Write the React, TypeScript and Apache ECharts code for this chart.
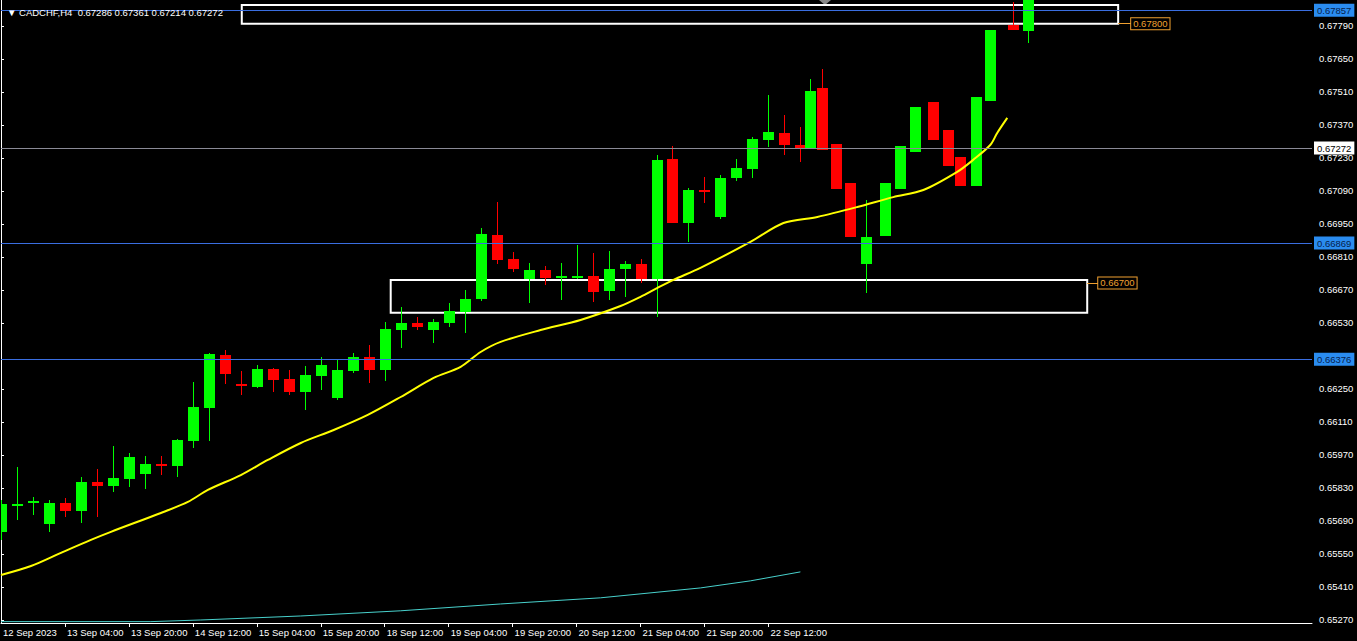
import React, { useEffect, useRef } from "react";
import * as echarts from "echarts";

const FONT = "'Liberation Sans', Arial, sans-serif";
const headerText = "CADCHF,H4  0.67286 0.67361 0.67214 0.67272";

// candle positions in H4-bar units (0 = first visible bar)
const candleX = [
  0, 1, 2, 3, 4, 5, 6, 7, 8, 9, 10, 11, 12, 13, 14, 15, 16, 17, 18, 19, 20,
  21, 22, 23, 24, 25, 26, 27, 28, 29, 30, 31, 32, 33, 34, 35, 36, 37, 38, 39,
  40, 41, 42, 43, 44, 45, 46, 47, 48, 49, 50,
  50.63, 51.38, 52.25, 53.13, 54.13, 55.31, 56.25, 57.19, 58.31, 59.25, 60.0,
  61.0, 61.88, 63.31, 64.25,
];
const opens = [
  0.65644, 0.6576, 0.65767, 0.65678, 0.65767, 0.65733, 0.65856, 0.65839, 0.65868, 0.65889,
  0.65932, 0.65923, 0.6603, 0.6617, 0.66394, 0.66271, 0.66259, 0.66335, 0.66293, 0.66238,
  0.66305, 0.66212, 0.66327, 0.66386, 0.66331, 0.665, 0.6653, 0.665, 0.6653, 0.66577,
  0.66632, 0.66903, 0.66802, 0.66717, 0.66755, 0.66721, 0.66721, 0.6673, 0.66664, 0.66759,
  0.66781, 0.66717, 0.67226, 0.66954, 0.67094, 0.6698, 0.67145, 0.67183, 0.67306, 0.67336,
  0.67286,
  0.67268, 0.67527, 0.67289, 0.67124, 0.66781, 0.66899, 0.67099, 0.67256, 0.67468, 0.67349,
  0.67234, 0.67111, 0.67472, 0.67794, 0.67769,
];
const closes = [
  0.65762, 0.65764, 0.65775, 0.65767, 0.65733, 0.65856, 0.65839, 0.65873, 0.65962, 0.65932,
  0.65923, 0.66034, 0.66174, 0.66399, 0.66314, 0.66263, 0.66335, 0.66288, 0.66238, 0.6631,
  0.66352, 0.66331, 0.66386, 0.66331, 0.66504, 0.6653, 0.66513, 0.66535, 0.66581, 0.66632,
  0.66908, 0.66797, 0.66759, 0.66755, 0.66721, 0.6673, 0.6673, 0.66664, 0.66759, 0.66781,
  0.66717, 0.67222, 0.66954, 0.67094, 0.67086, 0.67145, 0.67188, 0.67311, 0.6734, 0.67285,
  0.67272,
  0.67514, 0.67264, 0.67099, 0.66895, 0.66895, 0.67124, 0.67281, 0.67446, 0.67306, 0.67196,
  0.67111, 0.67489, 0.67773, 0.67773, 0.6791,
];
const lows = [
  0.6561, 0.65694, 0.65716, 0.65644, 0.65707, 0.65682, 0.65707, 0.65813, 0.65835, 0.65826,
  0.65885, 0.65877, 0.66, 0.6603, 0.66271, 0.66225, 0.66254, 0.66238, 0.66225, 0.66161,
  0.66246, 0.66205, 0.66318, 0.66276, 0.66284, 0.66424, 0.665, 0.66445, 0.66513, 0.66488,
  0.66624, 0.66781, 0.66747, 0.66615, 0.66691, 0.66628, 0.66717, 0.66619, 0.66628, 0.66641,
  0.667, 0.66556, 0.66954, 0.66874, 0.67039, 0.66971, 0.67132, 0.67145, 0.67277, 0.67243,
  0.67214,
  0.67268, 0.67264, 0.67099, 0.66895, 0.66659, 0.66899, 0.67099, 0.67256, 0.67306, 0.67196,
  0.67111, 0.67111, 0.67472, 0.67773, 0.67718,
];
const highs = [
  0.65779, 0.65919, 0.65792, 0.65779, 0.65788, 0.65877, 0.65911, 0.66008, 0.65979, 0.65966,
  0.65966, 0.66038, 0.6628, 0.66403, 0.66416, 0.66327, 0.66352, 0.66339, 0.66331, 0.66348,
  0.66386, 0.66373, 0.66403, 0.66437, 0.66535, 0.66598, 0.66556, 0.66547, 0.66615, 0.6667,
  0.66933, 0.67043, 0.66831, 0.66785, 0.66772, 0.66785, 0.66861, 0.66827, 0.66836, 0.66793,
  0.66802, 0.67243, 0.67281, 0.67103, 0.67149, 0.67158, 0.67226, 0.67319, 0.67497, 0.67412,
  0.67361,
  0.67565, 0.67608, 0.67289, 0.67124, 0.67052, 0.67124, 0.67281, 0.67446, 0.67468, 0.67349,
  0.67234, 0.67489, 0.67773, 0.67892, 0.6791,
];

// yellow moving average
const maFastX = [
  0, 1.875, 3.75, 5.625, 6.875, 10, 11.69, 12.94, 15, 16.69, 18.75, 20.81, 22.94, 25,
  27.06, 28.75, 30, 31.25, 33.75, 36.25, 38.75, 40, 41.06, 42.06, 43.75, 46.875, 48.94,
  51.06, 53.56, 55.81, 57.69, 59.81, 60.81, 61.875, 62.31, 62.94,
];
const maFastY = [
  0.65461, 0.65499, 0.65555, 0.6561, 0.65644, 0.65724, 0.65771, 0.65822, 0.65885, 0.65949,
  0.66021, 0.66076, 0.6614, 0.66216, 0.66297, 0.66344, 0.66407, 0.6645, 0.665, 0.66543,
  0.66602, 0.66641, 0.66679, 0.66713, 0.66764, 0.66874, 0.66954, 0.6698, 0.67022, 0.67064,
  0.67094, 0.67171, 0.67222, 0.67285, 0.67336, 0.674,
];
// cyan moving average
const maSlowX = [0, 9.375, 12.5, 18.75, 25, 31.25, 37.5, 43.75, 46.875, 50];
const maSlowY = [0.65263, 0.65263, 0.6527, 0.65287, 0.65309, 0.65338, 0.65364, 0.65406, 0.65436, 0.65474];

// axes
const xLabelBars = [0, 4, 8, 12, 16, 20, 24, 28, 32, 36, 40, 44, 48];
const xLabelTexts = [
  "12 Sep 2023", "13 Sep 04:00", "13 Sep 20:00", "14 Sep 12:00", "15 Sep 04:00",
  "15 Sep 20:00", "18 Sep 12:00", "19 Sep 04:00", "19 Sep 20:00", "20 Sep 12:00",
  "21 Sep 04:00", "21 Sep 20:00", "22 Sep 12:00",
];
const yTickValues = [
  0.6527, 0.6541, 0.6555, 0.6569, 0.6583, 0.6597, 0.6611, 0.6625, 0.6653, 0.6667,
  0.6681, 0.6695, 0.6709, 0.6723, 0.6737, 0.6751, 0.6765, 0.6779,
];

// horizontal levels
const blueLevels = [0.67857, 0.66869, 0.66376];
const currentPrice = 0.67272;

// rectangles: [x1, yTop, x2, yBottom]
const boxes = [
  [15.06, 0.67879, 69.875, 0.678],
  [24.375, 0.66712, 67.94, 0.66573],
];
const boxLevels = [0.678, 0.667];
const boxLabelSpan = [
  [69.875, 70.69],
  [67.94, 68.63],
];

export default function App() {
  const ref = useRef<HTMLDivElement>(null);
  useEffect(() => {
    const chart = echarts.init(ref.current!, null, { renderer: "svg" });
    const candleData = candleX.map((x, i) => [x, opens[i], closes[i], lows[i], highs[i]]);
    const FS = 9.5;

    const blueLabel = (v: number) => ({
      show: true,
      position: "end",
      distance: 2,
      formatter: v.toFixed(5),
      backgroundColor: "#2a8cf0",
      color: "#06204a",
      padding: [2, 3, 1, 3],
      fontSize: FS,
      fontFamily: FONT,
    });

    const option: any = {
      animation: false,
      backgroundColor: "#000",
      title: {
        text: "▼ " + headerText,
        left: 2,
        top: 2,
        textStyle: { color: "#fff", fontSize: FS, fontWeight: "normal", fontFamily: FONT },
      },
      graphic: [
        {
          type: "polygon",
          shape: { points: [[819, 0], [831, 0], [825, 5]] },
          style: { fill: "#8a8a8a" },
        },
      ],
      grid: { left: 0, right: 45, top: 0, bottom: 18, containLabel: false },
      xAxis: {
        type: "value",
        min: 0,
        max: 82,
        splitLine: { show: false },
        axisLine: { show: true, lineStyle: { color: "#fff", width: 1 } },
        axisTick: {
          show: true,
          length: 4,
          customValues: xLabelBars.slice(1),
          lineStyle: { color: "#fff" },
        },
        axisLabel: {
          customValues: xLabelBars,
          formatter: (v: number) => {
            const i = xLabelBars.indexOf(Math.round(v));
            return i >= 0 ? xLabelTexts[i] : "";
          },
          align: "left",
          padding: [0, 0, 0, 2],
          margin: 4,
          color: "#fff",
          fontSize: FS,
          fontFamily: FONT,
        },
      },
      yAxis: {
        type: "value",
        position: "right",
        min: 0.652572,
        max: 0.679003,
        splitLine: { show: false },
        axisLine: { show: true, lineStyle: { color: "#fff", width: 1 } },
        axisTick: { show: true, length: 3, customValues: yTickValues, lineStyle: { color: "#fff" } },
        axisLabel: {
          customValues: yTickValues,
          formatter: (v: number) => v.toFixed(5),
          margin: 7,
          color: "#fff",
          fontSize: FS,
          fontFamily: FONT,
        },
      },
      series: [
        {
          type: "line",
          name: "annotations",
          data: [],
          z: 1,
          silent: true,
          markArea: {
            silent: true,
            itemStyle: { color: "rgba(0,0,0,0)", borderColor: "#fff", borderWidth: 2 },
            data: boxes.map((b) => [{ coord: [b[0], b[1]] }, { coord: [b[2], b[3]] }]),
          },
          markLine: {
            silent: true,
            precision: 6,
            symbol: ["none", "none"],
            animation: false,
            data: [
              ...blueLevels.map((v) => ({
                yAxis: v,
                lineStyle: { color: "#3a6ee0", width: 1, type: "solid" },
                label: blueLabel(v),
              })),
              {
                yAxis: currentPrice,
                lineStyle: { color: "#8a8a96", width: 1, type: "solid" },
                label: {
                  show: true,
                  position: "end",
                  distance: 2,
                  formatter: currentPrice.toFixed(5),
                  backgroundColor: "#fff",
                  color: "#000",
                  padding: [2, 3, 1, 3],
                  fontSize: FS,
                  fontFamily: FONT,
                },
              },
              ...boxLevels.map((v, i) => [
                {
                  coord: [boxLabelSpan[i][0], v],
                  lineStyle: { color: "#f0a030", width: 1, type: "solid" },
                  label: {
                    show: true,
                    position: "end",
                    distance: 0,
                    formatter: v.toFixed(5),
                    color: "#f0a030",
                    borderColor: "#f0a030",
                    borderWidth: 1,
                    backgroundColor: "#000",
                    padding: [1, 2, 0, 2],
                    fontSize: FS,
                    fontFamily: FONT,
                  },
                },
                { coord: [boxLabelSpan[i][1], v] },
              ]),
            ],
          },
        },
        {
          type: "line",
          name: "MA slow",
          data: maSlowX.map((x, i) => [x, maSlowY[i]]),
          showSymbol: false,
          symbol: "none",
          lineStyle: { color: "#48d1cc", width: 1 },
          z: 2,
          silent: true,
        },
        {
          type: "custom",
          name: "CADCHF",
          data: candleData,
          clip: true,
          z: 3,
          encode: { x: 0, y: [1, 2, 3, 4] },
          renderItem: (params: any, api: any) => {
            const x = api.value(0);
            const o = api.value(1);
            const c = api.value(2);
            const l = api.value(3);
            const h = api.value(4);
            const pO = api.coord([x, o]);
            const pC = api.coord([x, c]);
            const pL = api.coord([x, l]);
            const pH = api.coord([x, h]);
            const band = api.size([1, 0])[0];
            const w = Math.round(band * 0.69);
            const cx = Math.round(pO[0]);
            const color = c >= o ? "#00ff00" : "#ff0000";
            const top = Math.round(Math.min(pO[1], pC[1]));
            const bh = Math.max(2, Math.round(Math.abs(pO[1] - pC[1])));
            return {
              type: "group",
              children: [
                {
                  type: "line",
                  shape: { x1: cx + 0.5, y1: Math.round(pH[1]), x2: cx + 0.5, y2: Math.round(pL[1]) },
                  style: { stroke: color, lineWidth: 1 },
                },
                {
                  type: "rect",
                  shape: { x: cx - Math.floor(w / 2), y: top, width: w, height: bh },
                  style: { fill: color },
                },
              ],
            };
          },
        },
        {
          type: "line",
          name: "MA fast",
          data: maFastX.map((x, i) => [x, maFastY[i]]),
          showSymbol: false,
          symbol: "none",
          smooth: 0.3,
          lineStyle: { color: "#ffff00", width: 2 },
          z: 4,
          silent: true,
        },
      ],
    };
    chart.setOption(option);
    return () => chart.dispose();
  }, []);
  return (
    <div
      ref={ref}
      style={{ position: "fixed", left: 0, top: 0, width: 1357, height: 641, background: "#000" }}
    />
  );
}
